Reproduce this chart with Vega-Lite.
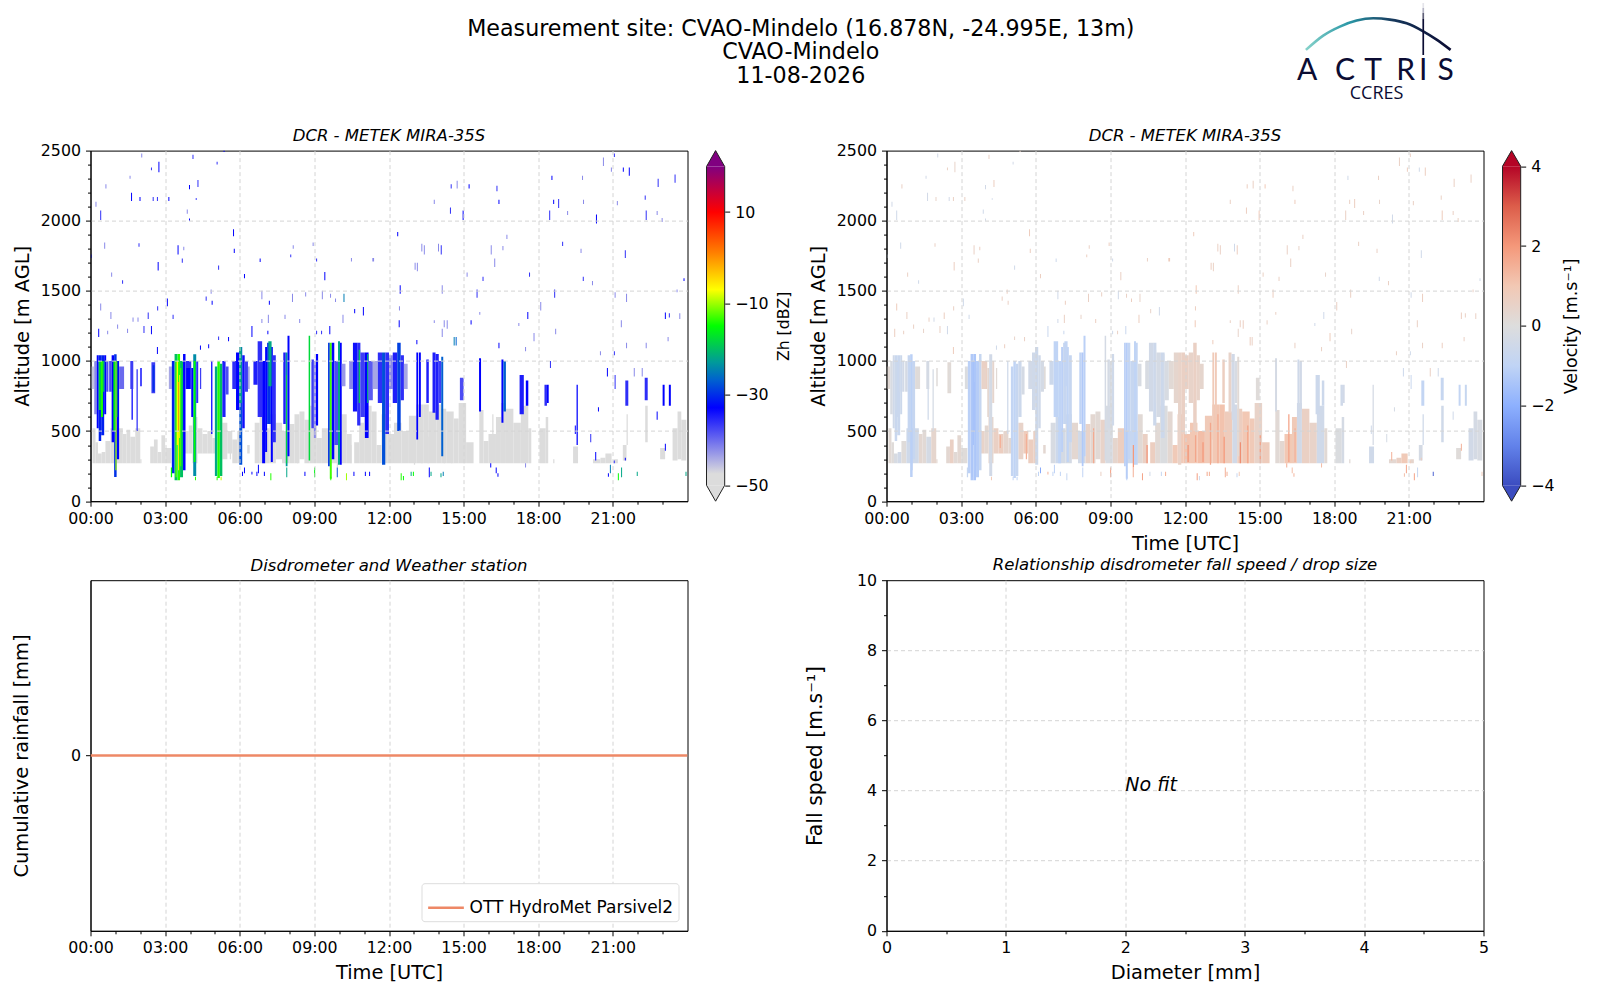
{
  "$schema": "https://vega.github.io/schema/vega-lite/v6.json",
  "background": "white",
  "padding": {"left": 10.5, "top": 3, "right": 0, "bottom": 0},
  "config": {
    "view": {"stroke": null},
    "font": "DejaVu Sans",
    "axis": {"labelFont": "DejaVu Sans", "titleFont": "DejaVu Sans", "labelColor": "black", "titleColor": "black", "tickColor": "black", "domainColor": "black", "titleFontWeight": "normal", "titleFontSize": 19.4, "labelFontSize": 15.8, "labelPadding": 5, "labelFlush": false}
  },
  "title": {"text": ["Measurement site: CVAO-Mindelo (16.878N, -24.995E, 13m)", "CVAO-Mindelo", "11-08-2026"], "fontSize": 22.2, "fontWeight": "normal", "lineHeight": 23.5, "anchor": "middle", "dx": 5, "offset": -84},
  "columns": 5,
  "bounds": "flush",
  "align": "each",
  "spacing": {"row": 78.6, "column": 19},
  "datasets": {
    "cells": [
      {"t":0.08,"e":0.2,"a":270,"b":520,"z":-48,"v":0.2},{"t":0.2,"e":0.3,"a":270,"b":420,"z":-48,"v":0.1},{"t":0.3,"e":0.45,"a":270,"b":340,"z":-48,"v":-0.2},{"t":0.45,"e":0.6,"a":270,"b":350,"z":-48,"v":-0.4},{"t":0.6,"e":0.8,"a":270,"b":430,"z":-48,"v":0.1},{"t":0.8,"e":1.3,"a":270,"b":520,"z":-48,"v":-0.5},{"t":1.3,"e":1.45,"a":270,"b":480,"z":-48,"v":0.3},{"t":1.45,"e":1.6,"a":270,"b":510,"z":-48,"v":0.2},{"t":1.6,"e":1.8,"a":270,"b":460,"z":-48,"v":-0.3},{"t":1.8,"e":2,"a":270,"b":520,"z":-48,"v":0.4},{"t":2,"e":2.05,"a":270,"b":300,"z":-48,"v":0.3},{"t":2.4,"e":2.55,"a":270,"b":390,"z":-48,"v":0.3},{"t":2.55,"e":2.7,"a":270,"b":440,"z":-48,"v":0.6},{"t":2.7,"e":2.85,"a":270,"b":350,"z":-48,"v":0.2},{"t":2.85,"e":3,"a":270,"b":470,"z":-48,"v":0.3},{"t":3,"e":3.25,"a":270,"b":380,"z":-48,"v":0.1},
      {"t":3.8,"e":3.95,"a":340,"b":500,"z":-48,"v":0.5},{"t":3.95,"e":4.1,"a":340,"b":540,"z":-48,"v":0.3},{"t":4.1,"e":4.3,"a":270,"b":600,"z":-48,"v":0.4},{"t":4.3,"e":4.5,"a":340,"b":520,"z":-48,"v":0.6},{"t":4.5,"e":4.7,"a":340,"b":480,"z":-48,"v":0.7},{"t":4.7,"e":4.9,"a":340,"b":500,"z":-48,"v":0.4},{"t":4.9,"e":5.05,"a":340,"b":450,"z":-48,"v":0.3},{"t":5.3,"e":5.5,"a":300,"b":560,"z":-48,"v":0.5},{"t":5.5,"e":5.7,"a":340,"b":500,"z":-48,"v":0.8},{"t":5.7,"e":5.9,"a":270,"b":440,"z":-48,"v":0.7},{"t":5.9,"e":6.05,"a":270,"b":500,"z":-48,"v":0.6},{"t":6.3,"e":6.4,"a":340,"b":400,"z":-48,"v":0.3},
      {"t":6.6,"e":6.8,"a":270,"b":560,"z":-48,"v":-0.2},{"t":6.8,"e":7,"a":270,"b":600,"z":-48,"v":-0.6},{"t":7,"e":7.2,"a":270,"b":520,"z":-48,"v":-0.3},{"t":7.2,"e":7.45,"a":270,"b":620,"z":-48,"v":-0.3},{"t":7.45,"e":7.7,"a":300,"b":560,"z":-48,"v":0.3},{"t":7.7,"e":8,"a":270,"b":500,"z":-48,"v":-0.4},{"t":8,"e":8.2,"a":270,"b":550,"z":-48,"v":0.5},{"t":8.2,"e":8.4,"a":270,"b":620,"z":-48,"v":0.3},{"t":8.4,"e":8.6,"a":300,"b":640,"z":-48,"v":0.2},{"t":8.6,"e":8.8,"a":270,"b":580,"z":-48,"v":0.5},{"t":8.8,"e":9.1,"a":270,"b":680,"z":-48,"v":-0.2},{"t":9.1,"e":9.3,"a":270,"b":450,"z":-48,"v":0.4},{"t":9.3,"e":9.6,"a":270,"b":520,"z":-48,"v":0.7},{"t":9.6,"e":10.1,"a":270,"b":500,"z":-48,"v":-0.6},{"t":10.1,"e":10.3,"a":270,"b":620,"z":-48,"v":0.2},{"t":10.3,"e":10.5,"a":270,"b":480,"z":-48,"v":0.6},
      {"t":10.6,"e":10.8,"a":270,"b":420,"z":-48,"v":0.7},{"t":10.8,"e":11,"a":270,"b":560,"z":-48,"v":0.2},{"t":11,"e":11.3,"a":270,"b":680,"z":-48,"v":-0.1},{"t":11.3,"e":11.5,"a":270,"b":640,"z":-48,"v":0.3},{"t":11.5,"e":11.7,"a":270,"b":400,"z":-48,"v":0.9},{"t":11.7,"e":11.95,"a":270,"b":620,"z":-48,"v":0.9},{"t":11.95,"e":12.2,"a":270,"b":480,"z":-48,"v":1.1},{"t":12.2,"e":12.5,"a":270,"b":560,"z":-48,"v":1},{"t":12.5,"e":12.8,"a":270,"b":500,"z":-48,"v":1.2},{"t":12.8,"e":13.1,"a":270,"b":610,"z":-48,"v":0.9},{"t":13.1,"e":13.4,"a":270,"b":690,"z":-48,"v":1},{"t":13.4,"e":13.6,"a":270,"b":690,"z":-48,"v":1.1},{"t":13.6,"e":13.9,"a":270,"b":640,"z":-48,"v":0.8},{"t":13.9,"e":14.1,"a":270,"b":690,"z":-48,"v":-0.4},{"t":14.1,"e":14.3,"a":270,"b":660,"z":-48,"v":0.7},{"t":14.3,"e":14.6,"a":270,"b":640,"z":-48,"v":1},{"t":14.6,"e":14.8,"a":270,"b":590,"z":-48,"v":0.9},{"t":14.8,"e":15.1,"a":270,"b":700,"z":-48,"v":0.5},{"t":15.1,"e":15.4,"a":270,"b":420,"z":-48,"v":0.8},
      {"t":15.63,"e":15.8,"a":270,"b":650,"z":-48,"v":0.2},{"t":15.8,"e":16,"a":270,"b":430,"z":-48,"v":0.3},{"t":16,"e":16.3,"a":270,"b":480,"z":-48,"v":1},{"t":16.3,"e":16.5,"a":270,"b":600,"z":-48,"v":0.9},{"t":16.5,"e":16.7,"a":270,"b":700,"z":-48,"v":-0.4},{"t":16.7,"e":17,"a":270,"b":660,"z":-48,"v":0.6},{"t":17,"e":17.3,"a":270,"b":560,"z":-48,"v":0.5},{"t":17.3,"e":17.6,"a":270,"b":680,"z":-48,"v":-0.5},{"t":17.6,"e":17.72,"a":270,"b":520,"z":-48,"v":0.2},{"t":18.05,"e":18.3,"a":270,"b":520,"z":-48,"v":-0.1},{"t":18.3,"e":18.4,"a":270,"b":600,"z":-48,"v":-0.3},{"t":18.6,"e":18.65,"a":270,"b":300,"z":-48,"v":0.2},{"t":19.4,"e":19.6,"a":270,"b":390,"z":-48,"v":-0.5},{"t":20.2,"e":20.5,"a":270,"b":300,"z":-48,"v":0.3},{"t":20.5,"e":20.7,"a":270,"b":310,"z":-48,"v":0.6},{"t":20.7,"e":20.95,"a":270,"b":340,"z":-48,"v":0.9},{"t":21.05,"e":21.2,"a":270,"b":300,"z":-48,"v":0.4},{"t":21.4,"e":21.55,"a":290,"b":400,"z":-48,"v":-0.3},{"t":21.55,"e":21.6,"a":400,"b":620,"z":-48,"v":-0.5},{"t":22.3,"e":22.4,"a":420,"b":680,"z":-48,"v":-0.5},{"t":22.9,"e":23.1,"a":300,"b":380,"z":-48,"v":0.1},{"t":23.4,"e":23.6,"a":290,"b":520,"z":-48,"v":-0.4},{"t":23.6,"e":23.75,"a":300,"b":640,"z":-48,"v":-0.3},{"t":23.75,"e":23.95,"a":290,"b":580,"z":-48,"v":-0.2},
      {"t":11.75,"e":11.8,"a":280,"b":520,"z":-48,"v":1.8},{"t":12.1,"e":12.15,"a":280,"b":400,"z":-48,"v":2.1},{"t":12.4,"e":12.45,"a":280,"b":470,"z":-48,"v":1.7},{"t":12.7,"e":12.75,"a":280,"b":420,"z":-48,"v":2},{"t":13,"e":13.05,"a":260,"b":560,"z":-48,"v":1.7},{"t":13.3,"e":13.35,"a":270,"b":620,"z":-48,"v":1.6},{"t":13.55,"e":13.6,"a":270,"b":460,"z":-48,"v":2},{"t":14.2,"e":14.25,"a":270,"b":420,"z":-48,"v":2.2},{"t":14.5,"e":14.55,"a":270,"b":540,"z":-48,"v":1.8},{"t":15,"e":15.05,"a":270,"b":470,"z":-48,"v":1.9},{"t":16.15,"e":16.2,"a":280,"b":620,"z":-48,"v":1.8},{"t":16.4,"e":16.45,"a":280,"b":520,"z":-48,"v":1.5},{"t":9.9,"e":9.95,"a":240,"b":430,"z":-48,"v":2},{"t":10.45,"e":10.5,"a":270,"b":400,"z":-48,"v":2.1},{"t":8.3,"e":8.35,"a":270,"b":520,"z":-48,"v":1.6},{"t":5.6,"e":5.65,"a":300,"b":480,"z":-48,"v":1.5},{"t":4.55,"e":4.6,"a":380,"b":470,"z":-48,"v":1.5},
      {"t":0,"e":0.15,"a":800,"b":960,"z":-46,"v":0.2},{"t":0.15,"e":0.25,"a":620,"b":1000,"z":-42,"v":-0.2},{"t":0.25,"e":0.33,"a":520,"b":1040,"z":-33,"v":-0.5},{"t":0.33,"e":0.43,"a":430,"b":1040,"z":-31,"v":-0.7},{"t":0.43,"e":0.55,"a":470,"b":1040,"z":-31,"v":-0.7},{"t":0.55,"e":0.63,"a":620,"b":1040,"z":-33,"v":-0.6},{"t":0.63,"e":0.72,"a":780,"b":1000,"z":-38,"v":-0.4},{"t":0.33,"e":0.42,"a":650,"b":1000,"z":-18,"v":-0.6},{"t":0.42,"e":0.5,"a":600,"b":1000,"z":-14,"v":-0.7},{"t":0.5,"e":0.56,"a":780,"b":1000,"z":-21,"v":-0.6},
      {"t":0.75,"e":0.85,"a":780,"b":1000,"z":-38,"v":-0.3},{"t":0.85,"e":0.95,"a":420,"b":1040,"z":-33,"v":-0.8},{"t":0.95,"e":1.05,"a":173,"b":1047,"z":-30,"v":-1.1},{"t":1.05,"e":1.15,"a":300,"b":1000,"z":-33,"v":-0.8},{"t":0.92,"e":1,"a":500,"b":1000,"z":-16,"v":-0.9},{"t":1,"e":1.05,"a":220,"b":1000,"z":-10,"v":-1.1},{"t":1.05,"e":1.08,"a":600,"b":1000,"z":-16,"v":-0.8},{"t":1.15,"e":1.35,"a":800,"b":960,"z":-40,"v":0.1},
      {"t":1.6,"e":1.72,"a":800,"b":1000,"z":-37,"v":-0.3},{"t":1.65,"e":1.7,"a":580,"b":800,"z":-33,"v":-0.5},{"t":1.85,"e":1.9,"a":500,"b":940,"z":-36,"v":-0.3},{"t":2,"e":2.06,"a":820,"b":950,"z":-34,"v":0.1},{"t":2.45,"e":2.6,"a":770,"b":990,"z":-37,"v":0.2},{"t":2.5,"e":2.57,"a":780,"b":970,"z":-30,"v":0.1},
      {"t":3.15,"e":3.27,"a":800,"b":960,"z":-44,"v":-0.1},{"t":3.27,"e":3.38,"a":200,"b":1000,"z":-31,"v":-1.1},{"t":3.38,"e":3.5,"a":150,"b":1050,"z":-20,"v":-1.3},{"t":3.5,"e":3.6,"a":150,"b":1050,"z":-14,"v":-1.4},{"t":3.6,"e":3.72,"a":170,"b":1000,"z":-20,"v":-1.2},{"t":3.72,"e":3.82,"a":220,"b":1050,"z":-33,"v":-0.8},{"t":3.42,"e":3.47,"a":170,"b":1000,"z":-12,"v":-1.4},{"t":3.47,"e":3.52,"a":400,"b":1000,"z":-7,"v":-1.5},{"t":3.52,"e":3.56,"a":500,"b":850,"z":-1,"v":-1.5},{"t":3.52,"e":3.56,"a":220,"b":500,"z":-6,"v":-1.3},{"t":3.56,"e":3.6,"a":450,"b":900,"z":-8,"v":-1.4},{"t":3.6,"e":3.65,"a":250,"b":950,"z":-13,"v":-1.2},
      {"t":3.82,"e":4.05,"a":800,"b":1000,"z":-36,"v":0.6},{"t":3.85,"e":4,"a":800,"b":950,"z":-33,"v":0.5},{"t":4.05,"e":4.13,"a":600,"b":950,"z":-33,"v":0.3},{"t":4.13,"e":4.25,"a":180,"b":1047,"z":-24,"v":-0.4},{"t":4.15,"e":4.22,"a":280,"b":1000,"z":-15,"v":-0.3},{"t":4.25,"e":4.33,"a":700,"b":1000,"z":-36,"v":0.4},{"t":4.4,"e":4.45,"a":800,"b":950,"z":-37,"v":0.2},{"t":4.85,"e":4.9,"a":480,"b":1000,"z":-33,"v":-0.5},
      {"t":5,"e":5.1,"a":180,"b":960,"z":-22,"v":-0.9},{"t":5.1,"e":5.2,"a":165,"b":1000,"z":-14,"v":-1},{"t":5.2,"e":5.3,"a":180,"b":980,"z":-20,"v":-0.8},{"t":5.3,"e":5.43,"a":600,"b":1000,"z":-35,"v":-0.6},{"t":5.43,"e":5.55,"a":760,"b":960,"z":-38,"v":-0.3},
      {"t":5.7,"e":5.85,"a":800,"b":1000,"z":-36,"v":-0.4},{"t":5.85,"e":5.98,"a":650,"b":1060,"z":-33,"v":-0.5},{"t":5.98,"e":6.1,"a":260,"b":1100,"z":-28,"v":-0.6},{"t":6.1,"e":6.2,"a":520,"b":1040,"z":-34,"v":-0.5},{"t":6.2,"e":6.33,"a":780,"b":1000,"z":-37,"v":-0.3},{"t":6.33,"e":6.4,"a":800,"b":960,"z":-44,"v":0.1},{"t":5.98,"e":6.08,"a":700,"b":1100,"z":-22,"v":-0.6},
      {"t":6.55,"e":6.72,"a":830,"b":1000,"z":-35,"v":-0.6},{"t":6.72,"e":6.9,"a":600,"b":1140,"z":-36,"v":-1},{"t":6.9,"e":7.02,"a":270,"b":1000,"z":-33,"v":-1},{"t":7.02,"e":7.1,"a":350,"b":1100,"z":-33,"v":-1.1},{"t":7.1,"e":7.25,"a":550,"b":1130,"z":-30,"v":-0.8},{"t":7.25,"e":7.33,"a":280,"b":1100,"z":-33,"v":-1},{"t":7.33,"e":7.45,"a":420,"b":1040,"z":-36,"v":-0.8},{"t":7.15,"e":7.28,"a":820,"b":1140,"z":-22,"v":-0.9},
      {"t":7.75,"e":7.85,"a":550,"b":1060,"z":-35,"v":-1},{"t":7.85,"e":7.92,"a":250,"b":1060,"z":-23,"v":-1.3},{"t":7.92,"e":8,"a":320,"b":1180,"z":-33,"v":-1.1},{"t":7.87,"e":7.9,"a":270,"b":900,"z":-17,"v":-1.3},{"t":8.77,"e":8.83,"a":290,"b":1180,"z":-18,"v":-0.3},{"t":8.88,"e":8.98,"a":520,"b":1010,"z":-37,"v":-0.3},{"t":8.98,"e":9.06,"a":450,"b":1000,"z":-42,"v":-0.2},{"t":9.06,"e":9.15,"a":540,"b":1050,"z":-33,"v":-0.5},
      {"t":9.55,"e":9.62,"a":250,"b":1130,"z":-30,"v":-1.1},{"t":9.62,"e":9.7,"a":160,"b":1130,"z":-13,"v":-1.2},{"t":9.7,"e":9.8,"a":300,"b":1130,"z":-33,"v":-0.9},{"t":9.8,"e":9.95,"a":400,"b":1000,"z":-38,"v":-0.8},{"t":9.95,"e":10.03,"a":260,"b":1140,"z":-22,"v":-1},{"t":10.03,"e":10.1,"a":260,"b":1130,"z":-33,"v":-0.9},{"t":10.1,"e":10.25,"a":820,"b":980,"z":-43,"v":-0.2},
      {"t":10.4,"e":10.55,"a":800,"b":1000,"z":-42,"v":-0.2},{"t":10.55,"e":10.72,"a":640,"b":1130,"z":-34,"v":-0.4},{"t":10.72,"e":10.85,"a":540,"b":1130,"z":-36,"v":-0.6},{"t":10.78,"e":10.84,"a":700,"b":1080,"z":-20,"v":-0.5},{"t":10.85,"e":11.03,"a":600,"b":1060,"z":-37,"v":-0.3},{"t":11.03,"e":11.18,"a":450,"b":1060,"z":-33,"v":-0.6},{"t":11.12,"e":11.17,"a":700,"b":1050,"z":-21,"v":-0.5},{"t":11.18,"e":11.35,"a":720,"b":1000,"z":-39,"v":-0.2},
      {"t":11.35,"e":11.55,"a":800,"b":1000,"z":-44,"v":0.2},{"t":11.55,"e":11.72,"a":700,"b":1060,"z":-36,"v":0.4},{"t":11.72,"e":11.85,"a":260,"b":1060,"z":-28,"v":0.5},{"t":11.85,"e":12,"a":480,"b":1060,"z":-36,"v":0.6},{"t":12,"e":12.15,"a":800,"b":1040,"z":-42,"v":0.6},{"t":12.15,"e":12.33,"a":700,"b":1060,"z":-35,"v":0.5},{"t":12.33,"e":12.47,"a":500,"b":1130,"z":-29,"v":0.6},{"t":12.47,"e":12.6,"a":720,"b":1040,"z":-36,"v":0.5},{"t":12.6,"e":12.75,"a":800,"b":980,"z":-44,"v":0.4},
      {"t":13.1,"e":13.17,"a":440,"b":1060,"z":-33,"v":0.9},{"t":13.2,"e":13.28,"a":600,"b":1060,"z":-33,"v":0.9},{"t":13.5,"e":13.6,"a":700,"b":1010,"z":-35,"v":0.7},{"t":13.75,"e":13.87,"a":630,"b":1060,"z":-35,"v":0.5},{"t":13.87,"e":14,"a":580,"b":1050,"z":-35,"v":-0.4},{"t":14,"e":14.1,"a":700,"b":1000,"z":-37,"v":-0.2},{"t":14.1,"e":14.18,"a":320,"b":1030,"z":-27,"v":0.2},{"t":14.85,"e":15,"a":720,"b":880,"z":-38,"v":0.1},{"t":15.62,"e":15.7,"a":640,"b":1020,"z":-33,"v":-0.3},{"t":16.52,"e":16.6,"a":560,"b":1010,"z":-33,"v":-0.5},{"t":16.6,"e":16.7,"a":640,"b":1000,"z":-27,"v":-0.4},{"t":17.25,"e":17.42,"a":620,"b":900,"z":-35,"v":-0.6},{"t":17.5,"e":17.6,"a":680,"b":860,"z":-33,"v":-0.6},{"t":18.25,"e":18.35,"a":680,"b":830,"z":-36,"v":-0.5},{"t":18.35,"e":18.42,"a":700,"b":830,"z":-33,"v":-0.4},{"t":19.54,"e":19.59,"a":400,"b":830,"z":-33,"v":-0.3},{"t":21.5,"e":21.62,"a":680,"b":860,"z":-36,"v":-0.9},{"t":22.28,"e":22.4,"a":720,"b":880,"z":-36,"v":-0.8},{"t":23,"e":23.08,"a":680,"b":830,"z":-33,"v":-0.9},{"t":23.25,"e":23.33,"a":680,"b":830,"z":-33,"v":-0.8},
      {"t":0.2,"e":0.24,"a":2100,"b":2135,"z":-42,"v":-0.4},{"t":0.39,"e":0.43,"a":2005,"b":2072,"z":-36,"v":-0.5},{"t":0.6,"e":0.64,"a":2230,"b":2260,"z":-42,"v":0.6},{"t":1.63,"e":1.67,"a":2140,"b":2200,"z":-33,"v":-0.4},{"t":1.97,"e":2.01,"a":2140,"b":2170,"z":-33,"v":0.5},{"t":1.57,"e":1.61,"a":2300,"b":2320,"z":-42,"v":-0.4},{"t":2.73,"e":2.77,"a":2345,"b":2420,"z":-33,"v":0.5},{"t":2.5,"e":2.54,"a":2140,"b":2170,"z":-36,"v":-0.4},{"t":2.67,"e":2.71,"a":2140,"b":2170,"z":-36,"v":0.6},{"t":2.43,"e":2.47,"a":2360,"b":2380,"z":-36,"v":0.6},{"t":2.04,"e":2.08,"a":2450,"b":2480,"z":-42,"v":-0.4},{"t":3.13,"e":3.17,"a":2140,"b":2170,"z":-33,"v":0.6},{"t":3.96,"e":4,"a":2225,"b":2255,"z":-33,"v":-0.4},{"t":4.3,"e":4.34,"a":2240,"b":2290,"z":-36,"v":0.7},{"t":4.1,"e":4.14,"a":2440,"b":2470,"z":-36,"v":0.6},{"t":5.07,"e":5.11,"a":2400,"b":2420,"z":-36,"v":-0.4},{"t":5.35,"e":5.39,"a":2490,"b":2500,"z":-33,"v":0.5},{"t":4.23,"e":4.27,"a":2150,"b":2160,"z":-33,"v":-0.5},{"t":3.96,"e":4,"a":2000,"b":2015,"z":-33,"v":-0.4},{"t":3.87,"e":3.91,"a":2050,"b":2080,"z":-42,"v":-0.5},
      {"t":5.73,"e":5.77,"a":1890,"b":1940,"z":-33,"v":0.8},{"t":5.76,"e":5.8,"a":1770,"b":1800,"z":-33,"v":0.7},{"t":3.5,"e":3.54,"a":1760,"b":1825,"z":-33,"v":0.6},{"t":3.73,"e":3.77,"a":1790,"b":1815,"z":-42,"v":0.7},{"t":0.55,"e":0.59,"a":1800,"b":1845,"z":-42,"v":-0.5},{"t":1.93,"e":1.97,"a":1815,"b":1840,"z":-36,"v":0.6},{"t":0.01,"e":0.05,"a":1735,"b":1760,"z":-36,"v":-0.5},{"t":2.7,"e":2.74,"a":1645,"b":1705,"z":-33,"v":0.7},{"t":3.67,"e":3.71,"a":1700,"b":1730,"z":-36,"v":0.6},{"t":5.13,"e":5.17,"a":1650,"b":1680,"z":-36,"v":-0.5},{"t":0.83,"e":0.87,"a":1600,"b":1630,"z":-42,"v":0.6},{"t":1.27,"e":1.31,"a":1550,"b":1575,"z":-36,"v":-0.5},{"t":6.8,"e":6.84,"a":1705,"b":1730,"z":-33,"v":-0.6},{"t":8.03,"e":8.07,"a":1740,"b":1760,"z":-36,"v":0.7},{"t":8.13,"e":8.17,"a":1800,"b":1825,"z":-42,"v":0.6},{"t":8.93,"e":8.97,"a":1820,"b":1845,"z":-42,"v":0.7},{"t":9.07,"e":9.11,"a":1710,"b":1730,"z":-36,"v":-0.5},{"t":9.4,"e":9.44,"a":1575,"b":1635,"z":-33,"v":0.6},{"t":6.17,"e":6.21,"a":1590,"b":1620,"z":-33,"v":0.7},{"t":10.47,"e":10.51,"a":1710,"b":1735,"z":-42,"v":0.6},{"t":11.33,"e":11.4,"a":1710,"b":1735,"z":-42,"v":0.8},{"t":13.03,"e":13.07,"a":1650,"b":1700,"z":-42,"v":0.7},{"t":13.3,"e":13.34,"a":1780,"b":1835,"z":-42,"v":0.6},{"t":13.97,"e":14.01,"a":1780,"b":1835,"z":-42,"v":-0.5},{"t":12.33,"e":12.37,"a":1890,"b":1920,"z":-33,"v":0.8},{"t":12.43,"e":12.47,"a":1480,"b":1540,"z":-33,"v":1},{"t":10.17,"e":10.21,"a":1420,"b":1480,"z":-25,"v":0.5},{"t":6.87,"e":6.91,"a":1440,"b":1500,"z":-42,"v":-0.5},{"t":7.17,"e":7.21,"a":1400,"b":1430,"z":-33,"v":0.7},{"t":8.1,"e":8.14,"a":1420,"b":1480,"z":-42,"v":0.6},{"t":9.3,"e":9.34,"a":1440,"b":1500,"z":-42,"v":-0.5},{"t":9.83,"e":9.87,"a":1420,"b":1445,"z":-42,"v":0.7},{"t":9.63,"e":9.67,"a":1450,"b":1480,"z":-42,"v":0.6},{"t":8.63,"e":8.67,"a":1460,"b":1490,"z":-42,"v":0.6},{"t":4.83,"e":4.87,"a":1480,"b":1510,"z":-42,"v":0.7},{"t":3.07,"e":3.11,"a":1390,"b":1445,"z":-33,"v":-0.5},{"t":4.63,"e":4.67,"a":1430,"b":1460,"z":-36,"v":0.6},{"t":4.87,"e":4.91,"a":1400,"b":1430,"z":-33,"v":0.6},{"t":0.39,"e":0.43,"a":1360,"b":1410,"z":-42,"v":0.8},{"t":0.8,"e":0.84,"a":1300,"b":1350,"z":-42,"v":0.6},{"t":2.3,"e":2.34,"a":1300,"b":1345,"z":-36,"v":0.7},{"t":2.68,"e":2.72,"a":1360,"b":1390,"z":-36,"v":0.6},{"t":3.3,"e":3.34,"a":1300,"b":1330,"z":-36,"v":-0.5},{"t":10.6,"e":10.64,"a":1340,"b":1370,"z":-33,"v":0.5},{"t":10.95,"e":10.99,"a":1325,"b":1385,"z":-33,"v":-0.5},{"t":12.4,"e":12.44,"a":1360,"b":1390,"z":-42,"v":0.7},{"t":12.39,"e":12.43,"a":1240,"b":1290,"z":-33,"v":0.9},{"t":14.2,"e":14.24,"a":1240,"b":1290,"z":-42,"v":0.7},{"t":10.13,"e":10.17,"a":1270,"b":1330,"z":-42,"v":0.7},{"t":7.13,"e":7.17,"a":1270,"b":1330,"z":-42,"v":0.6},{"t":6.87,"e":6.91,"a":1270,"b":1300,"z":-42,"v":-0.5},{"t":7.8,"e":7.84,"a":1300,"b":1330,"z":-42,"v":0.5},{"t":8.39,"e":8.43,"a":1270,"b":1300,"z":-42,"v":0.7},{"t":6.47,"e":6.51,"a":1170,"b":1250,"z":-33,"v":-0.7},{"t":1.07,"e":1.11,"a":1230,"b":1260,"z":-42,"v":0.6},{"t":0.31,"e":0.35,"a":1170,"b":1230,"z":-33,"v":0.7},{"t":1.69,"e":1.73,"a":1280,"b":1310,"z":-42,"v":0.6},{"t":1.89,"e":1.93,"a":1280,"b":1310,"z":-42,"v":-0.4},{"t":2.13,"e":2.17,"a":1200,"b":1250,"z":-36,"v":0.6},{"t":2.43,"e":2.47,"a":1190,"b":1250,"z":-33,"v":-0.5},{"t":1.47,"e":1.51,"a":1200,"b":1230,"z":-42,"v":0.5},{"t":0.67,"e":0.71,"a":1190,"b":1215,"z":-42,"v":0.6},{"t":2.67,"e":2.71,"a":1050,"b":1100,"z":-33,"v":0.8},{"t":4.4,"e":4.44,"a":1080,"b":1110,"z":-33,"v":-0.5},{"t":4.73,"e":4.77,"a":1090,"b":1120,"z":-33,"v":0.7},{"t":9.6,"e":9.64,"a":1190,"b":1250,"z":-33,"v":-0.7},{"t":9.27,"e":9.31,"a":1190,"b":1215,"z":-36,"v":0.6},{"t":9.07,"e":9.11,"a":1190,"b":1215,"z":-36,"v":-0.5},{"t":5.53,"e":5.57,"a":1140,"b":1170,"z":-33,"v":0.6},{"t":5.13,"e":5.17,"a":1150,"b":1175,"z":-36,"v":0.5},{"t":7.11,"e":7.15,"a":1190,"b":1215,"z":-33,"v":-0.7},{"t":14.6,"e":14.64,"a":1110,"b":1170,"z":-25,"v":0.7},{"t":13.1,"e":13.14,"a":1120,"b":1150,"z":-33,"v":0.8},
      {"t":14.72,"e":14.76,"a":2230,"b":2285,"z":-42,"v":0.6},{"t":14.48,"e":14.52,"a":2230,"b":2260,"z":-36,"v":0.7},{"t":15.2,"e":15.24,"a":2230,"b":2260,"z":-33,"v":0.9},{"t":13.8,"e":13.84,"a":2120,"b":2150,"z":-42,"v":0.6},{"t":14.45,"e":14.49,"a":2050,"b":2095,"z":-36,"v":0.7},{"t":14.96,"e":15,"a":2005,"b":2072,"z":-33,"v":0.9},{"t":16.32,"e":16.36,"a":2210,"b":2250,"z":-36,"v":0.6},{"t":16.4,"e":16.44,"a":2120,"b":2150,"z":-33,"v":0.8},{"t":18.53,"e":18.57,"a":2290,"b":2320,"z":-33,"v":-0.5},{"t":19.76,"e":19.8,"a":2290,"b":2320,"z":-42,"v":0.6},{"t":18.6,"e":18.64,"a":2120,"b":2150,"z":-33,"v":0.6},{"t":18.8,"e":18.84,"a":2090,"b":2155,"z":-36,"v":0.7},{"t":18.44,"e":18.48,"a":2005,"b":2072,"z":-36,"v":0.6},{"t":19.16,"e":19.2,"a":2040,"b":2070,"z":-42,"v":0.6},{"t":19.8,"e":19.84,"a":2120,"b":2150,"z":-42,"v":0.5},{"t":20.32,"e":20.36,"a":1980,"b":2045,"z":-33,"v":-0.5},{"t":20.6,"e":20.64,"a":2390,"b":2450,"z":-42,"v":0.6},{"t":20.92,"e":20.96,"a":2350,"b":2380,"z":-42,"v":0.7},{"t":21.04,"e":21.08,"a":2455,"b":2480,"z":-36,"v":0.6},{"t":21.4,"e":21.44,"a":2350,"b":2380,"z":-33,"v":-0.5},{"t":21.64,"e":21.68,"a":2320,"b":2380,"z":-33,"v":0.7},{"t":22.8,"e":22.84,"a":2240,"b":2300,"z":-36,"v":0.6},{"t":23.48,"e":23.52,"a":2270,"b":2330,"z":-36,"v":0.6},{"t":22.28,"e":22.32,"a":2150,"b":2180,"z":-36,"v":0.6},{"t":22.32,"e":22.36,"a":2005,"b":2072,"z":-36,"v":0.8},{"t":22.76,"e":22.8,"a":2040,"b":2070,"z":-42,"v":0.6},{"t":22.96,"e":23,"a":1990,"b":2020,"z":-42,"v":0.6},{"t":21.16,"e":21.2,"a":2110,"b":2140,"z":-42,"v":0.6},{"t":16.72,"e":16.76,"a":1870,"b":1900,"z":-42,"v":0.6},{"t":18.96,"e":19,"a":1820,"b":1850,"z":-36,"v":0.6},{"t":16.09,"e":16.13,"a":1760,"b":1825,"z":-42,"v":0.6},{"t":13.4,"e":13.44,"a":1760,"b":1825,"z":-42,"v":0.6},{"t":14.08,"e":14.12,"a":1760,"b":1825,"z":-36,"v":0.7},{"t":16.56,"e":16.6,"a":1790,"b":1820,"z":-42,"v":0.5},{"t":16.23,"e":16.27,"a":1670,"b":1730,"z":-42,"v":0.6},{"t":13.12,"e":13.16,"a":1640,"b":1700,"z":-42,"v":0.6},{"t":21.48,"e":21.52,"a":1735,"b":1790,"z":-36,"v":-0.5},{"t":19.7,"e":19.74,"a":1770,"b":1800,"z":-42,"v":0.6},{"t":15.12,"e":15.16,"a":1600,"b":1630,"z":-42,"v":0.6},{"t":15.76,"e":15.8,"a":1570,"b":1600,"z":-36,"v":0.6},{"t":17.63,"e":17.67,"a":1600,"b":1630,"z":-36,"v":0.5},{"t":19.79,"e":19.83,"a":1570,"b":1600,"z":-36,"v":-0.5},{"t":20.16,"e":20.2,"a":1540,"b":1570,"z":-42,"v":0.6},{"t":23.84,"e":23.88,"a":1570,"b":1590,"z":-33,"v":-0.5},{"t":14.12,"e":14.16,"a":1480,"b":1540,"z":-42,"v":0.6},{"t":15.52,"e":15.56,"a":1450,"b":1510,"z":-36,"v":0.7},{"t":18.64,"e":18.68,"a":1450,"b":1510,"z":-36,"v":0.6},{"t":21.07,"e":21.11,"a":1450,"b":1490,"z":-42,"v":-0.5},{"t":21.53,"e":21.57,"a":1420,"b":1480,"z":-42,"v":0.7},{"t":23.56,"e":23.6,"a":1490,"b":1510,"z":-42,"v":0.6},{"t":18.08,"e":18.12,"a":1360,"b":1420,"z":-42,"v":0.6},{"t":17.56,"e":17.6,"a":1300,"b":1350,"z":-33,"v":-0.5},{"t":15.63,"e":15.67,"a":1330,"b":1350,"z":-42,"v":0.6},{"t":15.28,"e":15.32,"a":1260,"b":1290,"z":-33,"v":0.6},{"t":14.32,"e":14.36,"a":1230,"b":1290,"z":-42,"v":0.7},{"t":13.8,"e":13.84,"a":1270,"b":1290,"z":-42,"v":0.6},{"t":14.12,"e":14.16,"a":1170,"b":1230,"z":-42,"v":0.5},{"t":17.81,"e":17.85,"a":1140,"b":1200,"z":-42,"v":0.8},{"t":17.2,"e":17.24,"a":1250,"b":1270,"z":-42,"v":-0.5},{"t":18.68,"e":18.72,"a":1190,"b":1230,"z":-42,"v":0.5},{"t":21.32,"e":21.36,"a":1240,"b":1290,"z":-42,"v":0.6},{"t":23.09,"e":23.13,"a":1300,"b":1345,"z":-33,"v":0.7},{"t":23.25,"e":23.29,"a":1310,"b":1340,"z":-36,"v":0.6},{"t":23.67,"e":23.71,"a":1300,"b":1340,"z":-42,"v":0.6},{"t":14.68,"e":14.72,"a":1110,"b":1170,"z":-27,"v":0.6},{"t":16.4,"e":16.44,"a":1090,"b":1130,"z":-33,"v":0.6},{"t":21.53,"e":21.57,"a":1090,"b":1130,"z":-42,"v":0.6},{"t":22.32,"e":22.36,"a":1090,"b":1130,"z":-42,"v":0.7},{"t":23.2,"e":23.24,"a":1140,"b":1170,"z":-42,"v":0.6},{"t":17.47,"e":17.51,"a":1070,"b":1100,"z":-42,"v":0.6},{"t":20.48,"e":20.52,"a":1040,"b":1070,"z":-42,"v":0.6},{"t":21.04,"e":21.08,"a":1040,"b":1070,"z":-36,"v":-0.5},{"t":18.47,"e":18.51,"a":950,"b":1000,"z":-36,"v":0.6},{"t":20.76,"e":20.8,"a":890,"b":950,"z":-33,"v":-0.6},{"t":21.84,"e":21.88,"a":890,"b":950,"z":-42,"v":0.6},{"t":22.16,"e":22.2,"a":890,"b":950,"z":-42,"v":-0.5},{"t":21.07,"e":21.11,"a":800,"b":900,"z":-36,"v":-0.7},
      {"t":3.23,"e":3.28,"a":170,"b":240,"z":-15,"v":-0.8},{"t":4.2,"e":4.24,"a":150,"b":175,"z":-14,"v":0.9},{"t":5.07,"e":5.11,"a":150,"b":175,"z":-14,"v":-1},{"t":5.23,"e":5.27,"a":150,"b":175,"z":-9,"v":-1},{"t":7.23,"e":7.27,"a":150,"b":200,"z":-14,"v":-0.8},{"t":7.87,"e":7.91,"a":170,"b":240,"z":-22,"v":-1},{"t":8.99,"e":9.03,"a":170,"b":240,"z":-16,"v":1.9},{"t":9.64,"e":9.68,"a":150,"b":175,"z":-14,"v":-1.1},{"t":10.27,"e":10.31,"a":150,"b":200,"z":-10,"v":1.8},{"t":12.47,"e":12.51,"a":150,"b":200,"z":-14,"v":1.9},{"t":12.87,"e":12.91,"a":180,"b":210,"z":-22,"v":1.7},{"t":13.6,"e":13.64,"a":170,"b":240,"z":-33,"v":1.5},{"t":14.07,"e":14.11,"a":170,"b":200,"z":-22,"v":-0.8},{"t":6.17,"e":6.21,"a":200,"b":240,"z":-33,"v":-2.2},{"t":6.09,"e":6.13,"a":180,"b":210,"z":-33,"v":-1},{"t":6.73,"e":6.77,"a":200,"b":260,"z":-33,"v":-1.1},{"t":6.47,"e":6.51,"a":190,"b":210,"z":-33,"v":1.5},{"t":6.67,"e":6.71,"a":180,"b":210,"z":-33,"v":-0.9},{"t":6.97,"e":7.01,"a":180,"b":210,"z":-33,"v":-1},{"t":8.6,"e":8.64,"a":180,"b":210,"z":-33,"v":0.6},{"t":9.9,"e":9.94,"a":170,"b":240,"z":-28,"v":1.5},{"t":10.57,"e":10.61,"a":180,"b":210,"z":-33,"v":-0.4},{"t":11.03,"e":11.07,"a":180,"b":210,"z":-33,"v":-0.8},{"t":11.2,"e":11.24,"a":180,"b":210,"z":-33,"v":1.6},{"t":12.56,"e":12.6,"a":150,"b":180,"z":-15,"v":-0.6},{"t":12.96,"e":13,"a":180,"b":210,"z":-15,"v":1.5},{"t":13.67,"e":13.71,"a":180,"b":210,"z":-22,"v":1.5},{"t":14.16,"e":14.2,"a":180,"b":210,"z":-25,"v":0.9},{"t":16.07,"e":16.11,"a":240,"b":270,"z":-33,"v":1.6},{"t":16.29,"e":16.33,"a":200,"b":240,"z":-33,"v":1.2},{"t":16.36,"e":16.4,"a":175,"b":200,"z":-33,"v":1.4},{"t":17.47,"e":17.51,"a":240,"b":270,"z":-42,"v":1.3},{"t":20.29,"e":20.33,"a":290,"b":350,"z":-33,"v":1.5},{"t":20.88,"e":20.92,"a":200,"b":260,"z":-25,"v":1.7},{"t":21.03,"e":21.07,"a":270,"b":290,"z":-33,"v":0.9},{"t":20.8,"e":20.84,"a":175,"b":200,"z":-33,"v":1.2},{"t":21.2,"e":21.24,"a":150,"b":200,"z":-15,"v":1.8},{"t":21.33,"e":21.37,"a":170,"b":240,"z":-22,"v":-0.8},{"t":21.96,"e":22,"a":180,"b":210,"z":-22,"v":-3.6},{"t":23.92,"e":23.96,"a":180,"b":210,"z":-22,"v":0.9},{"t":21.48,"e":21.52,"a":290,"b":310,"z":-33,"v":0.8},{"t":23.09,"e":23.13,"a":360,"b":410,"z":-33,"v":1.5},{"t":22.76,"e":22.8,"a":580,"b":640,"z":-33,"v":-0.5},{"t":20.4,"e":20.44,"a":640,"b":670,"z":-33,"v":-0.3},{"t":19.47,"e":19.51,"a":480,"b":540,"z":-33,"v":-0.5},{"t":20.09,"e":20.13,"a":420,"b":480,"z":-36,"v":-0.3}
    ]
  },
  "concat": [
    {"width": 597, "height": 60, "data": {"values": []}, "mark": "point"},
    {"width": 18.2, "height": 60, "data": {"values": []}, "mark": "point"},
    {"width": 122.5, "height": 60, "data": {"values": []}, "mark": "point"},
    {
      "width": 597, "height": 60,
      "layer": [
        {
          "data": {"values": [{"x":419.4,"y":37.9},{"x":436.7,"y":23.6},{"x":453.4,"y":14.6},{"x":470.1,"y":8.6},{"x":486.7,"y":6.3},{"x":503.4,"y":7.6},{"x":520.1,"y":11.3},{"x":536.7,"y":19.3},{"x":550.1,"y":27.6},{"x":564.1,"y":37.9}]},
          "mark": {"type": "line", "interpolate": "monotone", "strokeWidth": 2.6, "color": {"gradient": "linear", "x1": 0, "y1": 0, "x2": 1, "y2": 0, "stops": [{"offset": 0, "color": "#86d2ca"}, {"offset": 0.3, "color": "#2a97a6"}, {"offset": 0.6, "color": "#16385c"}, {"offset": 1, "color": "#0b0c33"}]}},
          "encoding": {
            "x": {"field": "x", "type": "quantitative", "axis": null, "scale": {"domain": [0, 597]}},
            "y": {"field": "y", "type": "quantitative", "axis": null, "scale": {"domain": [60, 0]}}
          }
        },
        {
          "data": {"values": [{"x":535.9,"x2":537.6,"y":-9,"y2":-4,"c":"#e4e4ea"},{"x":535.9,"x2":537.6,"y":-4,"y2":1,"c":"#b4b4c4"},{"x":535.9,"x2":537.6,"y":1,"y2":7,"c":"#606078"},{"x":535.9,"x2":537.6,"y":7,"y2":43,"c":"#0b0c33"}]},
          "mark": {"type": "rect"},
          "encoding": {
            "x": {"field": "x", "type": "quantitative", "axis": null, "scale": {"domain": [0, 597]}},
            "x2": {"field": "x2"},
            "y": {"field": "y", "type": "quantitative", "axis": null, "scale": {"domain": [60, 0]}},
            "y2": {"field": "y2"},
            "color": {"field": "c", "type": "nominal", "scale": null, "legend": null}
          }
        },
        {
          "data": {"values": [{"x":420.7,"y":67.8,"s":"A"},{"x":458.4,"y":67.8,"s":"C"},{"x":486.7,"y":67.8,"s":"T"},{"x":519.1,"y":67.8,"s":"R"},{"x":536.7,"y":67.8,"s":"I"},{"x":559.1,"y":67.8,"s":"S"}]},
          "mark": {"type": "text", "font": "Lato", "fontSize": 30, "color": "#0b0c33", "align": "center", "baseline": "alphabetic"},
          "encoding": {
            "x": {"field": "x", "type": "quantitative", "axis": null, "scale": {"domain": [0, 597]}},
            "y": {"field": "y", "type": "quantitative", "axis": null, "scale": {"domain": [60, 0]}},
            "text": {"field": "s"}
          }
        },
        {
          "data": {"values": [{"x":490.1,"y":86.6,"s":"CCRES"}]},
          "mark": {"type": "text", "font": "Open Sans", "fontSize": 18, "color": "#0b0c33", "align": "center", "baseline": "alphabetic"},
          "encoding": {
            "x": {"field": "x", "type": "quantitative", "axis": null, "scale": {"domain": [0, 597]}},
            "y": {"field": "y", "type": "quantitative", "axis": null, "scale": {"domain": [60, 0]}},
            "text": {"field": "s"}
          }
        }
      ]
    },
    {"width": 18.2, "height": 60, "data": {"values": []}, "mark": "point"},
    {
      "width": 597, "height": 350.6,
      "view": {"stroke": "black"},
      "title": {"text": "DCR - METEK MIRA-35S", "fontSize": 16.5, "fontStyle": "italic", "fontWeight": "normal", "offset": -2},
      "data": {"name": "cells"},
      "mark": {"type": "rect", "clip": true},
      "encoding": {
        "x": {"field": "t", "type": "quantitative", "scale": {"domain": [0, 24], "nice": false}, "title": null,
          "axis": {"values": [0,1,2,3,4,5,6,7,8,9,10,11,12,13,14,15,16,17,18,19,20,21,22,23], "labelExpr": "datum.value % 3 == 0 ? (datum.value < 10 ? '0' : '') + datum.value + ':00' : ''", "tickSize": {"condition": {"test": "datum.value % 3 == 0", "value": 5}, "value": 3}, "grid": true, "gridDash": [4, 3], "gridColor": "#d4d4d4", "gridOpacity": {"condition": {"test": "datum.value % 3 == 0 && datum.value > 0", "value": 1}, "value": 0}, "labelOverlap": false, "zindex": 1}},
        "x2": {"field": "e"},
        "y": {"field": "a", "type": "quantitative", "scale": {"domain": [0, 2500], "nice": false}, "title": "Altitude [m AGL]",
          "axis": {"values": [0,100,200,300,400,500,600,700,800,900,1000,1100,1200,1300,1400,1500,1600,1700,1800,1900,2000,2100,2200,2300,2400,2500], "labelExpr": "datum.value % 500 == 0 ? datum.value : ''", "tickSize": {"condition": {"test": "datum.value % 500 == 0", "value": 5}, "value": 3}, "grid": true, "gridDash": [4, 3], "gridColor": "#d4d4d4", "gridOpacity": {"condition": {"test": "datum.value % 500 == 0 && datum.value > 0 && datum.value < 2500", "value": 1}, "value": 0}, "labelOverlap": false, "zindex": 1, "titlePadding": 7.3}},
        "y2": {"field": "b"},
        "color": {"field": "z", "type": "quantitative", "legend": null, "scale": {"domain": [-50,-47.5,-33,-27,-23,-15,-7,1,10,15,20], "range": ["#dcdcdc","#dcdcdc","#0000ff","#0060d0","#009a9a","#00ff00","#ffff00","#ff8000","#ff0000","#c00040","#800080"], "interpolate": "rgb", "clamp": true}}
      }
    },
    {
      "width": 18.2, "height": 350.6,
      "layer": [
        {
          "data": {"values": [{"z":-50,"y2":20}]},
          "mark": {"type": "rect", "color": {"gradient": "linear", "x1": 0, "y1": 1, "x2": 0, "y2": 0, "stops": [{"offset": 0, "color": "#dcdcdc"}, {"offset": 0.036, "color": "#dcdcdc"}, {"offset": 0.243, "color": "#0000ff"}, {"offset": 0.329, "color": "#0060d0"}, {"offset": 0.386, "color": "#009a9a"}, {"offset": 0.5, "color": "#00ff00"}, {"offset": 0.614, "color": "#ffff00"}, {"offset": 0.729, "color": "#ff8000"}, {"offset": 0.857, "color": "#ff0000"}, {"offset": 0.929, "color": "#c00040"}, {"offset": 1, "color": "#800080"}]}},
          "encoding": {
            "y": {"field": "z", "type": "quantitative", "scale": {"domain": [-53.5, 23.5], "nice": false}, "title": "Zh [dBZ]",
              "axis": {"orient": "right", "values": [-50,-30,-10,10], "labelExpr": "replace(datum.label, '-', '−')", "tickSize": 5, "domain": false, "grid": false, "titleAngle": 270, "titleBaseline": "bottom", "titleFontSize": 15.7, "titlePadding": 23}},
            "y2": {"field": "y2"}
          }
        },
        {
          "data": {"values": [{"s":0,"s2":1,"z":20},{"s":0.5,"s2":0.5,"z":23.5}]},
          "mark": {"type": "area", "orient": "horizontal", "color": "#800080"},
          "encoding": {
            "x": {"field": "s", "type": "quantitative", "axis": null, "scale": {"domain": [0, 1]}},
            "x2": {"field": "s2"},
            "y": {"field": "z", "type": "quantitative"}
          }
        },
        {
          "data": {"values": [{"s":0,"s2":1,"z":-50},{"s":0.5,"s2":0.5,"z":-53.5}]},
          "mark": {"type": "area", "orient": "horizontal", "color": "#dcdcdc"},
          "encoding": {
            "x": {"field": "s", "type": "quantitative", "axis": null, "scale": {"domain": [0, 1]}},
            "x2": {"field": "s2"},
            "y": {"field": "z", "type": "quantitative"}
          }
        },
        {
          "data": {"values": [{"s":0,"z":-50,"o":1},{"s":0,"z":20,"o":2},{"s":0.5,"z":23.5,"o":3},{"s":1,"z":20,"o":4},{"s":1,"z":-50,"o":5},{"s":0.5,"z":-53.5,"o":6},{"s":0,"z":-50,"o":7}]},
          "mark": {"type": "line", "color": "#222222", "strokeWidth": 1},
          "encoding": {
            "x": {"field": "s", "type": "quantitative", "axis": null, "scale": {"domain": [0, 1]}},
            "y": {"field": "z", "type": "quantitative"},
            "order": {"field": "o"}
          }
        }
      ]
    },
    {"width": 122.5, "height": 350.6, "data": {"values": []}, "mark": "point"},
    {
      "width": 597, "height": 350.6,
      "view": {"stroke": "black"},
      "title": {"text": "DCR - METEK MIRA-35S", "fontSize": 16.5, "fontStyle": "italic", "fontWeight": "normal", "offset": -2},
      "data": {"name": "cells"},
      "mark": {"type": "rect", "clip": true},
      "encoding": {
        "x": {"field": "t", "type": "quantitative", "scale": {"domain": [0, 24], "nice": false}, "title": "Time [UTC]",
          "axis": {"values": [0,1,2,3,4,5,6,7,8,9,10,11,12,13,14,15,16,17,18,19,20,21,22,23], "labelExpr": "datum.value % 3 == 0 ? (datum.value < 10 ? '0' : '') + datum.value + ':00' : ''", "tickSize": {"condition": {"test": "datum.value % 3 == 0", "value": 5}, "value": 3}, "grid": true, "gridDash": [4, 3], "gridColor": "#d4d4d4", "gridOpacity": {"condition": {"test": "datum.value % 3 == 0 && datum.value > 0", "value": 1}, "value": 0}, "labelOverlap": false, "zindex": 1, "titlePadding": 8}},
        "x2": {"field": "e"},
        "y": {"field": "a", "type": "quantitative", "scale": {"domain": [0, 2500], "nice": false}, "title": "Altitude [m AGL]",
          "axis": {"values": [0,100,200,300,400,500,600,700,800,900,1000,1100,1200,1300,1400,1500,1600,1700,1800,1900,2000,2100,2200,2300,2400,2500], "labelExpr": "datum.value % 500 == 0 ? datum.value : ''", "tickSize": {"condition": {"test": "datum.value % 500 == 0", "value": 5}, "value": 3}, "grid": true, "gridDash": [4, 3], "gridColor": "#d4d4d4", "gridOpacity": {"condition": {"test": "datum.value % 500 == 0 && datum.value > 0 && datum.value < 2500", "value": 1}, "value": 0}, "labelOverlap": false, "zindex": 1, "titlePadding": 7.3}},
        "y2": {"field": "b"},
        "color": {"field": "v", "type": "quantitative", "legend": null, "scale": {"domain": [-4,-3,-2,-1,0,1,2,3,4], "range": ["#3b4cc0","#6282ea","#8db0fe","#c0d4f5","#dddddd","#f2c8b4","#f4987a","#dc5d4a","#b40426"], "interpolate": "rgb", "clamp": true}}
      }
    },
    {
      "width": 18.2, "height": 350.6,
      "layer": [
        {
          "data": {"values": [{"v":-4,"y2":4}]},
          "mark": {"type": "rect", "color": {"gradient": "linear", "x1": 0, "y1": 1, "x2": 0, "y2": 0, "stops": [{"offset": 0, "color": "#3b4cc0"}, {"offset": 0.125, "color": "#6282ea"}, {"offset": 0.25, "color": "#8db0fe"}, {"offset": 0.375, "color": "#c0d4f5"}, {"offset": 0.5, "color": "#dddddd"}, {"offset": 0.625, "color": "#f2c8b4"}, {"offset": 0.75, "color": "#f4987a"}, {"offset": 0.875, "color": "#dc5d4a"}, {"offset": 1, "color": "#b40426"}]}},
          "encoding": {
            "y": {"field": "v", "type": "quantitative", "scale": {"domain": [-4.39, 4.39], "nice": false}, "title": "Velocity [m.s⁻¹]",
              "axis": {"orient": "right", "values": [-4,-2,0,2,4], "labelExpr": "replace(datum.label, '-', '−')", "tickSize": 5, "domain": false, "grid": false, "titleAngle": 270, "titleBaseline": "bottom", "titleFontSize": 17.5, "titlePadding": 27}},
            "y2": {"field": "y2"}
          }
        },
        {
          "data": {"values": [{"s":0,"s2":1,"v":4},{"s":0.5,"s2":0.5,"v":4.39}]},
          "mark": {"type": "area", "orient": "horizontal", "color": "#b40426"},
          "encoding": {
            "x": {"field": "s", "type": "quantitative", "axis": null, "scale": {"domain": [0, 1]}},
            "x2": {"field": "s2"},
            "y": {"field": "v", "type": "quantitative"}
          }
        },
        {
          "data": {"values": [{"s":0,"s2":1,"v":-4},{"s":0.5,"s2":0.5,"v":-4.39}]},
          "mark": {"type": "area", "orient": "horizontal", "color": "#3b4cc0"},
          "encoding": {
            "x": {"field": "s", "type": "quantitative", "axis": null, "scale": {"domain": [0, 1]}},
            "x2": {"field": "s2"},
            "y": {"field": "v", "type": "quantitative"}
          }
        },
        {
          "data": {"values": [{"s":0,"v":-4,"o":1},{"s":0,"v":4,"o":2},{"s":0.5,"v":4.39,"o":3},{"s":1,"v":4,"o":4},{"s":1,"v":-4,"o":5},{"s":0.5,"v":-4.39,"o":6},{"s":0,"v":-4,"o":7}]},
          "mark": {"type": "line", "color": "#222222", "strokeWidth": 1},
          "encoding": {
            "x": {"field": "s", "type": "quantitative", "axis": null, "scale": {"domain": [0, 1]}},
            "y": {"field": "v", "type": "quantitative"},
            "order": {"field": "o"}
          }
        }
      ]
    },
    {
      "width": 597, "height": 350.6,
      "view": {"stroke": "black"},
      "title": {"text": "Disdrometer and Weather station", "fontSize": 16.5, "fontStyle": "italic", "fontWeight": "normal", "offset": 6},
      "data": {"values": [{"t":0,"r":0,"s":"OTT HydroMet Parsivel2"},{"t":24,"r":0,"s":"OTT HydroMet Parsivel2"}]},
      "mark": {"type": "line", "strokeWidth": 2.6, "clip": true},
      "encoding": {
        "x": {"field": "t", "type": "quantitative", "scale": {"domain": [0, 24], "nice": false}, "title": "Time [UTC]",
          "axis": {"values": [0,1,2,3,4,5,6,7,8,9,10,11,12,13,14,15,16,17,18,19,20,21,22,23], "labelExpr": "datum.value % 3 == 0 ? (datum.value < 10 ? '0' : '') + datum.value + ':00' : ''", "tickSize": {"condition": {"test": "datum.value % 3 == 0", "value": 5}, "value": 3}, "grid": true, "gridDash": [4, 3], "gridColor": "#d4d4d4", "gridOpacity": {"condition": {"test": "datum.value % 3 == 0 && datum.value > 0", "value": 1}, "value": 0}, "labelOverlap": false, "titlePadding": 8}},
        "y": {"field": "r", "type": "quantitative", "scale": {"domain": [-1, 1], "nice": false}, "title": "Cumulative rainfall [mm]",
          "axis": {"values": [0], "tickSize": 5, "grid": false, "titlePadding": 38.8}},
        "color": {"field": "s", "type": "nominal", "title": null, "scale": {"range": ["#ee8866"]},
          "legend": {"orient": "bottom-right", "offset": 9.5, "symbolType": "stroke", "symbolStrokeWidth": 2.6, "symbolSize": 1275, "labelFontSize": 17, "labelFont": "DejaVu Sans", "labelColor": "black", "labelLimit": 320, "fillColor": "white", "strokeColor": "#dddddd", "cornerRadius": 3, "padding": 5}}
      }
    },
    {"width": 18.2, "height": 350.6, "data": {"values": []}, "mark": "point"},
    {"width": 122.5, "height": 350.6, "data": {"values": []}, "mark": "point"},
    {
      "width": 597, "height": 350.6,
      "view": {"stroke": "black"},
      "title": {"text": "Relationship disdrometer fall speed / drop size", "fontSize": 16.5, "fontStyle": "italic", "fontWeight": "normal", "offset": -1},
      "data": {"values": [{"d":2,"f":4,"s":"No fit"}]},
      "mark": {"type": "text", "align": "left", "baseline": "alphabetic", "fontSize": 19, "fontStyle": "italic"},
      "encoding": {
        "x": {"field": "d", "type": "quantitative", "scale": {"domain": [0, 5], "nice": false}, "title": "Diameter [mm]",
          "axis": {"values": [0,0.5,1,1.5,2,2.5,3,3.5,4,4.5,5], "labelExpr": "datum.value % 1 == 0 ? datum.value : ''", "tickSize": {"condition": {"test": "datum.value % 1 == 0", "value": 5}, "value": 3}, "grid": true, "gridDash": [4, 3], "gridColor": "#d4d4d4", "gridOpacity": {"condition": {"test": "datum.value % 1 == 0 && datum.value > 0 && datum.value < 5", "value": 1}, "value": 0}, "labelOverlap": false, "titlePadding": 8}},
        "y": {"field": "f", "type": "quantitative", "scale": {"domain": [0, 10], "nice": false}, "title": "Fall speed [m.s⁻¹]",
          "axis": {"values": [0,1,2,3,4,5,6,7,8,9,10], "labelExpr": "datum.value % 2 == 0 ? datum.value : ''", "tickSize": {"condition": {"test": "datum.value % 2 == 0", "value": 5}, "value": 3}, "grid": true, "gridDash": [4, 3], "gridColor": "#d4d4d4", "gridOpacity": {"condition": {"test": "datum.value % 2 == 0 && datum.value > 0 && datum.value < 10", "value": 1}, "value": 0}, "labelOverlap": false, "titleFontSize": 20.4, "titlePadding": 30.7}},
        "text": {"field": "s"}
      }
    },
    {"width": 18.2, "height": 350.6, "data": {"values": []}, "mark": "point"}
  ]
}
